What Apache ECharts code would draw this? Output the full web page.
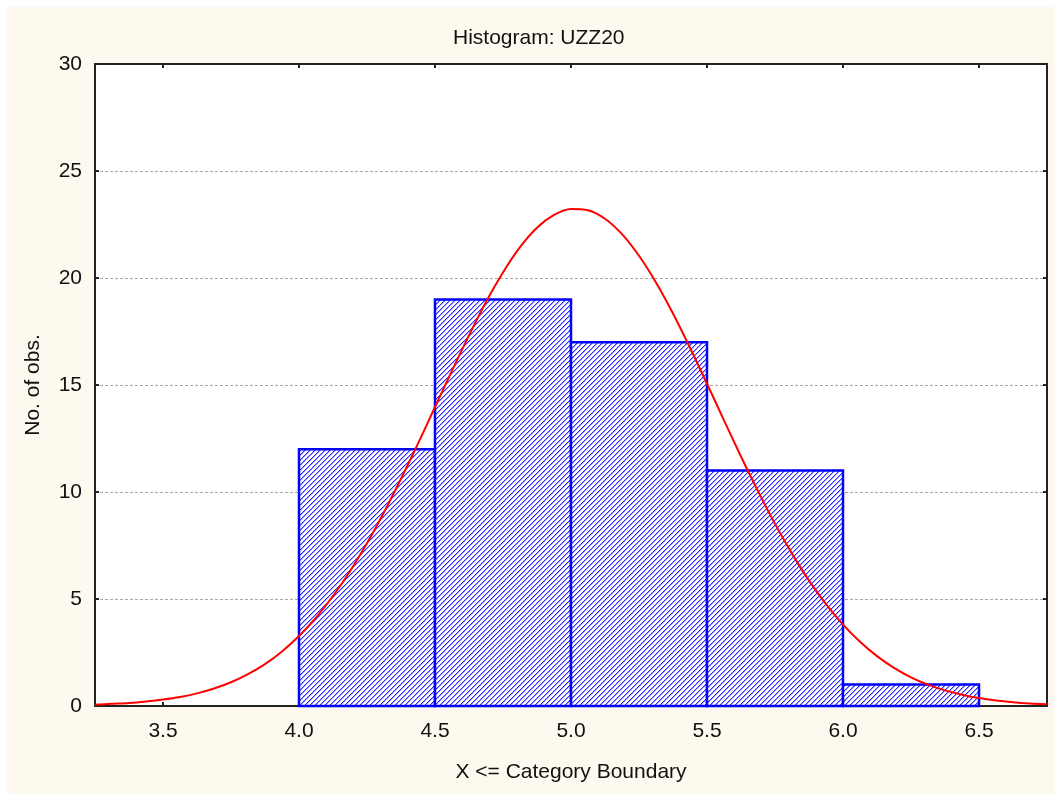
<!DOCTYPE html>
<html><head><meta charset="utf-8">
<script src="https://cdn.jsdelivr.net/npm/echarts@6/dist/echarts.min.js"></script>
<style>html,body{margin:0;padding:0;background:#fff}#c{width:1055px;height:794px}</style>
</head><body><div id="c"></div>
<script>
// Histogram bins: [lower, upper, count]
const binLower = [4.0, 4.5, 5.0, 5.5, 6.0];
const binUpper = [4.5, 5.0, 5.5, 6.0, 6.5];
const binCounts = [12, 19, 17, 11, 1];
// Expected normal curve
const curveX = [3.25,3.3125,3.375,3.4375,3.5,3.5625,3.625,3.6875,3.75,3.8125,3.875,3.9375,4.0,4.0625,4.125,4.1875,4.25,4.3125,4.375,4.4375,4.5,4.5625,4.625,4.6875,4.75,4.8125,4.875,4.9375,5.0,5.0625,5.125,5.1875,5.25,5.3125,5.375,5.4375,5.5,5.5625,5.625,5.6875,5.75,5.8125,5.875,5.9375,6.0,6.0625,6.125,6.1875,6.25,6.3125,6.375,6.4375,6.5,6.5625,6.625,6.6875,6.75];
const curveY = [0.06,0.10,0.14,0.21,0.30,0.42,0.59,0.82,1.11,1.49,1.96,2.55,3.27,4.13,5.14,6.30,7.60,9.05,10.62,12.26,13.97,15.67,17.32,18.88,20.26,21.44,22.35,22.95,23.23,23.17,22.77,22.05,21.04,19.79,18.34,16.74,15.06,13.35,11.66,10.04,8.51,7.12,5.86,4.76,3.80,3.00,2.33,1.78,1.34,1.00,0.73,0.53,0.37,0.26,0.18,0.12,0.08];
const xTicks = [3.5, 4.0, 4.5, 5.0, 5.5, 6.0, 6.5];
const yTicks = [0, 5, 10, 15, 20, 25, 30];

const FONT = "'Liberation Sans', Arial, sans-serif";
const FS = 21;

// hatch pattern
const P = 5;
const pc = document.createElement('canvas');
pc.width = P; pc.height = P;
const g = pc.getContext('2d');
g.fillStyle = '#ffffff'; g.fillRect(0,0,P,P);
for (let y = 0; y < P; y++) {
  g.fillStyle = '#2a2aff'; g.fillRect(((P - 1 - y) % P + P) % P, y, 1, 1);
  g.fillStyle = '#9a9aff'; g.fillRect(((P - y) % P + P) % P, y, 1, 1);
}
const hatch = { image: pc, repeat: 'repeat' };

const bins = binLower.map((l, i) => [l, binUpper[i], binCounts[i]]);
const curve = curveX.map((x, i) => [x, curveY[i]]);

const chart = echarts.init(document.getElementById('c'), null, { renderer: 'canvas' });
const xCommon = {
  type: 'value', min: 3.25, max: 6.75,
  axisLine: { show: true, onZero: false, lineStyle: { color: '#222', width: 2 } },
  axisTick: { show: true, inside: true, length: 4, customValues: xTicks, lineStyle: { color: '#222', width: 2 } },
  splitLine: { show: false }
};
const yCommon = {
  type: 'value', min: 0, max: 30, interval: 5,
  axisLine: { show: true, lineStyle: { color: '#222', width: 2 } },
  axisTick: { show: true, inside: true, length: 4, lineStyle: { color: '#222', width: 2 } }
};
chart.setOption({
  animation: false,
  backgroundColor: '#ffffff',
  graphic: [{ type: 'rect', z: -100, silent: true, shape: { x: 7, y: 7, width: 1055, height: 794 }, style: { fill: '#fef9ee' } }],
  title: {
    text: 'Histogram: UZZ20', left: 448, top: 23,
    textStyle: { fontFamily: FONT, fontSize: FS, fontWeight: 'normal', color: '#111' }
  },
  grid: { left: 95, right: 8, top: 64, bottom: 88, show: true, backgroundColor: '#ffffff', borderWidth: 0 },
  xAxis: [
    Object.assign({}, xCommon, {
      position: 'bottom',
      name: 'X <= Category Boundary', nameLocation: 'middle', nameGap: 56,
      nameTextStyle: { fontFamily: FONT, fontSize: FS, color: '#111' },
      axisLabel: { show: true, customValues: xTicks, margin: 15, formatter: v => v.toFixed(1), fontFamily: FONT, fontSize: FS, color: '#111' }
    }),
    Object.assign({}, xCommon, { position: 'top', axisLabel: { show: false } })
  ],
  yAxis: [
    Object.assign({}, yCommon, {
      position: 'left',
      name: 'No. of obs.', nameLocation: 'middle', nameGap: 51, nameRotate: 90,
      nameTextStyle: { fontFamily: FONT, fontSize: FS, color: '#111' },
      axisLabel: { show: true, margin: 13, fontFamily: FONT, fontSize: FS, color: '#111' },
      splitLine: { show: true, lineStyle: { color: '#aaaaaa', type: [3, 2], width: 1 } }
    }),
    Object.assign({}, yCommon, { position: 'right', axisLabel: { show: false }, splitLine: { show: false } })
  ],
  series: [
    {
      type: 'custom', xAxisIndex: 0, yAxisIndex: 0, z: 3,
      data: bins,
      encode: { x: [0, 1], y: 2 },
      renderItem: function (params, api) {
        const p0 = api.coord([api.value(0), api.value(2)]);
        const p1 = api.coord([api.value(1), 0]);
        return {
          type: 'rect',
          shape: { x: p0[0], y: p0[1], width: p1[0] - p0[0], height: p1[1] - p0[1] },
          style: { fill: hatch, stroke: '#0000ff', lineWidth: 2.5 }
        };
      }
    },
    {
      type: 'line', xAxisIndex: 0, yAxisIndex: 0, z: 5,
      data: curve, smooth: 0.3, showSymbol: false, symbol: 'none',
      lineStyle: { color: '#ff0000', width: 2 }
    }
  ]
});
</script></body></html>
